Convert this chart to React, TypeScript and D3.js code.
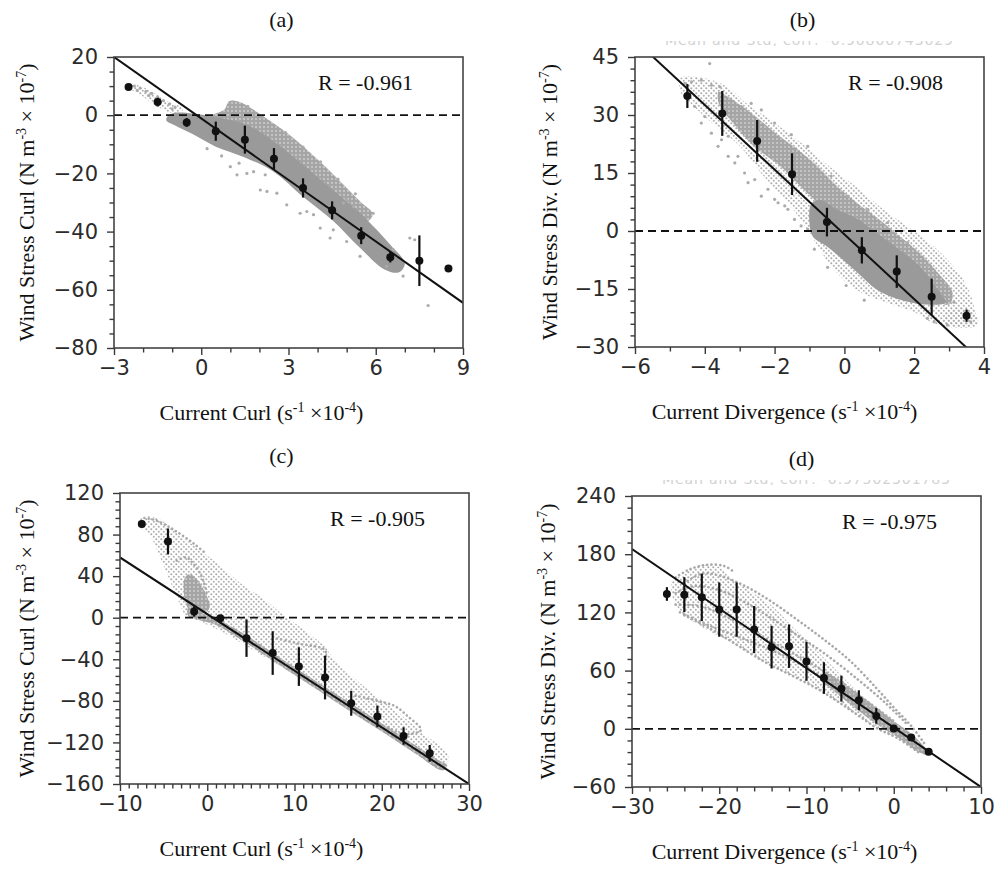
import React, { useEffect, useRef } from 'react';
import * as d3 from 'd3';

// ---- panel (a): wind stress curl vs current curl ----
const binsA = [-2.5, -1.5, -0.5, 0.5, 1.5, 2.5, 3.5, 4.5, 5.5, 6.5, 7.5, 8.5];
const meanA = [9.7, 4.5, -2.5, -5.5, -8.4, -15, -25, -32.7, -41.4, -48.8, -50, -52.7];
const stdA = [0.6, 1.5, 1.5, 3.3, 4.8, 3.7, 3.3, 3.1, 2.9, 1.8, 8.7, 0];
const fitA = [-7.04, -1.12]; // slope, intercept
const xTicksA = [-3, 0, 3, 6, 9];
const yTicksA = [-80, -60, -40, -20, 0, 20];
const denseA = [[-1.15, -0.3], [-0.9, 0.8], [-0.3, 0.6], [0.4, -0.5], [1.5, -3], [2.5, -9], [3.5, -17], [4.5, -25.5], [5.5, -34], [6.5, -44.5], [7.0, -51], [6.8, -54], [6.3, -53], [5.5, -46], [4.5, -36], [3.5, -28], [2.5, -19.5], [1.5, -14.5], [0.5, -10.8], [-0.3, -6.5], [-0.9, -3.5], [-1.2, -1.8]];
const lobeA = [[0.3, -0.5], [0.8, 2], [0.95, 4.8], [1.3, 4.6], [1.7, 2.5], [2.3, -1.5], [3.0, -6.5], [3.7, -12.5], [4.3, -18], [4.9, -24], [5.5, -30], [5.9, -34], [5.6, -37], [4.8, -31], [3.8, -23], [2.8, -15], [1.8, -8], [1.0, -4], [0.5, -2.5]];
const tailA = [[-2.45, 10.8], [-1.9, 9.2], [-1.2, 5], [-0.6, 2.2], [-0.9, 0.5], [-1.5, 3], [-2.1, 7], [-2.5, 9.6]];
const looseA = [[1.57, -20], [2.26, -26.2], [2.6, -26.8], [1.8, -19.4], [3.4, -33.7], [3.63, -33.1], [3.86, -34.2], [4.09, -38.8], [4.54, -39.4], [4.43, -42.2], [5.0, -43.4], [5.46, -48.5], [5.91, -33.7], [6.94, -55.3], [7.17, -42.2], [7.34, -42.8], [7.8, -65.4], [1.0, -17.7], [1.23, -20.5], [2.03, -25.7], [2.94, -30.8], [4.89, -30.2], [5.0, -29.1], [5.23, -31.4], [6.6, -46.2], [6.71, -48.5], [6.37, -51.9], [1.6, 3], [2.1, -0.5], [2.9, -6], [3.5, -11], [4.1, -16], [4.7, -22], [5.3, -27], [0.2, -11.5], [0.7, -14], [1.3, -16.5], [2.2, -20.5],
  [-2.3, 10], [-2.1, 9.3], [-1.9, 8.2], [-1.7, 7.5], [-1.5, 6.3], [-1.3, 5], [-1.1, 3.8], [-0.9, 2.8], [-2.2, 8.5], [-1.8, 6.8], [-1.4, 4.5], [-1.0, 2.2]];

// ---- panel (b): wind stress divergence vs current divergence ----
const binsB = [-4.5, -3.5, -2.5, -1.5, -0.5, 0.5, 1.5, 2.5, 3.5];
const meanB = [34.9, 30.4, 23.3, 14.7, 2.3, -5, -10.5, -17, -21.9];
const stdB = [3.1, 5.8, 5.4, 5.4, 3.7, 3.4, 4.2, 4.7, 1.6];
const fitB = [-8.37, -0.87];
const xTicksB = [-6, -4, -2, 0, 2, 4];
const yTicksB = [-30, -15, 0, 15, 30, 45];
const envB = [[-4.7, 39.5], [-4.0, 39.5], [-3.4, 37.5], [-2.8, 33], [-2.0, 28], [-1.2, 22.5], [-0.4, 16.5], [0.4, 11], [1.2, 5], [2.0, 0], [2.8, -6], [3.4, -12.5], [3.7, -19], [3.75, -24], [3.3, -25], [2.6, -24], [2.0, -21], [1.2, -18.5], [0.4, -15.5], [-0.3, -10], [-0.9, -2], [-1.5, 6], [-2.3, 14], [-3.0, 22], [-3.8, 28], [-4.4, 33], [-4.7, 36]];
const tipB = [[3.0, -20.5], [3.5, -20], [3.8, -22], [3.8, -24.5], [3.2, -24.8], [2.8, -23.5]];
const bandB = [[-3.6, 36], [-3.3, 34.5], [-2.6, 30], [-2.0, 25.5], [-1.4, 21.5], [-0.8, 17], [-0.2, 11.5], [0.4, 7], [1.0, 3], [1.6, -1.5], [2.2, -6], [2.7, -11], [3.1, -16], [3.0, -19], [2.4, -17], [1.6, -12], [0.8, -6], [0.2, -1], [-0.5, 5], [-1.2, 11], [-1.8, 16.5], [-2.6, 22], [-3.2, 28], [-3.6, 33]];
const denseB = [[-0.95, 7], [-0.7, 8], [-0.2, 5.5], [0.4, 3], [1.0, -1], [1.6, -5], [2.2, -9.5], [2.7, -15.5], [2.9, -18.5], [2.3, -19], [1.5, -17.5], [0.9, -15], [0.4, -11], [-0.1, -7], [-0.5, -4], [-0.9, -1.5], [-1.0, 2]];
const looseB = [[-3.86, 43.3], [-4.57, 38.2], [-4.38, 38.6], [-4.1, 39], [-3.81, 37.7], [-3.57, 37.3], [-4.29, 32.2], [-4.1, 27.9], [-3.81, 25.3], [-3.62, 21.9], [-3.33, 19.3], [-3.14, 17.6], [-2.86, 15], [-2.57, 13.3], [-2.19, 10.8], [-2, 8.2], [-1.71, 6.5], [-1.43, 3], [-1.24, 1.3], [-1.05, 0.5], [-0.86, -4.7], [-0.48, -9.4], [0.05, -14.1], [0.57, -17.9], [-3.33, 24.5], [-3.05, 19.3], [-2.76, 12.5], [-2.38, 9], [-1.9, 7.3], [-1.62, 5.6], [-4, 29.6], [-3.52, 23.6], [-3.14, 29.6], [-2.95, 32.2], [-2.67, 33], [-2.38, 31.3], [-2, 27.9], [-1.52, 24.9], [-1.05, 21.9], [-0.38, 14.2], [0.1, 9], [0.67, 5.6], [1.24, 2.2], [1.81, -3], [2.38, -8.9], [2.86, -14.1], [3.14, -18.4], [3.52, -20.9], [3.62, -23.5], [2.38, -22.6], [2.57, -23.5], [2.95, -24.3]];

// ---- panel (c): wind stress curl vs current curl ----
const binsC = [-7.5, -4.5, -1.5, 1.5, 4.5, 7.5, 10.5, 13.5, 16.5, 19.5, 22.5, 25.5];
const meanC = [90.1, 73.4, 6, -0.4, -19.7, -34, -47, -57.6, -82.3, -95, -113.8, -130.5];
const stdC = [3.5, 12.5, 5, 3, 18, 21, 18.6, 21, 12, 10.5, 8.4, 8];
const fitC = [-5.45, 3.5];
const xTicksC = [-10, 0, 10, 20, 30];
const yTicksC = [-160, -120, -80, -40, 0, 40, 80, 120];
const envC = [[-7.9, 94], [-6.8, 97.5], [-5.5, 95], [-3.5, 82], [-1, 66], [1.5, 50], [4, 32], [6.5, 18], [8.5, 4], [10.5, -8], [13.5, -28], [14, -34], [16, -52], [19, -73], [22, -92], [25, -113], [27.5, -130], [27.5, -140], [24, -125], [18, -95], [12, -65], [6, -35], [2, -15], [-1, -3], [-2.5, 3], [-3.5, 20], [-5, 50], [-6.5, 78], [-7.8, 88]];
const bandC = [[-2.2, 9], [-0.5, 4], [1.5, -3], [4, -14.5], [8, -36.5], [12, -58.5], [16, -80], [20, -101.5], [24, -123.5], [26.5, -137], [27.5, -142], [27, -147], [24, -131.5], [20, -109.5], [16, -88], [12, -66], [8, -44], [4, -22], [1, -7], [-1, -2], [-2.2, 2]];
const loopC = [[-2.6, 38], [-2.0, 42], [-1.3, 38], [-0.6, 30], [0, 20], [0.3, 12], [0, 6], [-1, 4], [-2, 7], [-2.5, 15], [-2.7, 28]];
const strandsC = [
  [[-3.5, 55], [-2.4, 58], [-1.6, 52], [-0.9, 44], [-0.4, 34], [0, 22]],
  [[-7.2, 96], [-6, 94], [-4.5, 88], [-3, 80], [-1.5, 71], [-0.2, 62]],
  [[8, -20], [10.5, -25], [13.5, -31], [13.6, -38]],
  [[17, -75], [19.5, -80], [21.5, -85], [23, -95], [24.5, -108], [22.5, -112], [20.5, -104]],
];

// ---- panel (d): wind stress divergence vs current divergence ----
const binsD = [-26, -24, -22, -20, -18, -16, -14, -12, -10, -8, -6, -4, -2, 0, 2, 4];
const meanD = [139, 138.3, 135.5, 122.9, 122.9, 102.3, 84.2, 85.2, 69.5, 52.3, 41.4, 29.4, 13.3, 0.3, -9, -23.7];
const stdD = [7, 18, 24.5, 28, 28, 24.3, 22, 22.4, 20, 16.3, 13.4, 10.3, 8, 1, 1, 1.5];
const fitD = [-6.13, 1.3];
const xTicksD = [-30, -20, -10, 0, 10];
const yTicksD = [-60, 0, 60, 120, 180, 240];
const envD = [[-25.4, 151], [-24.3, 158], [-22.4, 168], [-20.1, 167], [-18.6, 155], [-16.3, 141], [-14, 127], [-11.7, 106], [-9.4, 86], [-7.1, 65], [-4.9, 45], [-2.6, 24], [-0.3, 4], [2, -10], [3.9, -27], [2.8, -24], [0.5, -10], [-1.8, 0.3], [-4.1, 14], [-6.4, 27.7], [-8.7, 41.4], [-11.7, 55], [-14.8, 68.8], [-18.6, 89.3], [-21.6, 103], [-24.3, 120], [-25.4, 137]];
const denseD = [[-8, 58], [-5, 42], [-2, 22], [0, 8], [2, -5], [3.8, -22], [3.9, -27], [2.5, -22], [0.5, -9], [-2, 5], [-4.5, 22], [-7, 40], [-8.5, 53]];
const strandsD = [
  [[-25, 156], [-23.5, 164], [-21.5, 169], [-19.5, 168], [-18.5, 163]],
  [[-24, 150], [-22, 160], [-20, 158], [-17, 147], [-14, 131], [-11, 112], [-8, 92], [-5, 70], [-2, 42], [0, 22], [2, 3], [3.5, -15]],
  [[-25, 140], [-23, 147], [-20, 143], [-16, 125], [-12, 102], [-8, 78], [-4, 50], [-1, 27], [1.5, 5]],
  [[-25, 128], [-22, 126], [-18, 110], [-14, 90], [-10, 70], [-6, 48], [-3, 28], [0, 8]],
  [[-24.5, 120], [-21, 106], [-17, 92], [-13, 77], [-9, 58], [-5, 38], [-2, 18], [1, -2]],
  [[-24, 117], [-21, 103], [-18.6, 90], [-14.8, 69], [-11.7, 55], [-8.7, 41], [-6.4, 28], [-4.1, 14], [-1.8, 0], [0.5, -10], [2.8, -24]],
];

const SERIF = '"Liberation Serif", "Times New Roman", serif';
const SANS = '"DejaVu Sans", sans-serif';

const panels = [
  { key: 'a', title: '(a)', r: 'R = -0.961', left: 114, top: 57, width: 349, height: 291, xDomain: [-3, 9], yDomain: [-80, 20], xTicks: xTicksA, yTicks: yTicksA, xMinor: 1, yMinor: 5, bins: binsA, mean: meanA, std: stdA, fit: fitA, xLabel: 'Current Curl', yLabel: 'Wind Stress Curl', rx: 204, titleDx: -7, xLabelDx: -27, yLabelX: 34, faint: null,
    layers: { env: [tailA], lobe: [lobeA], dense: [denseA], strands: [], loose: looseA } },
  { key: 'b', title: '(b)', r: 'R = -0.908', left: 635, top: 57, width: 349, height: 290, xDomain: [-6, 4], yDomain: [-30, 45], xTicks: xTicksB, yTicks: yTicksB, xMinor: 1, yMinor: 3, bins: binsB, mean: meanB, std: stdB, fit: fitB, xLabel: 'Current Divergence', yLabel: 'Wind Stress Div.', rx: 213, titleDx: -7, xLabelDx: -25, yLabelX: 557, faint: 'Mean and Std, corr: -0.90800743029',
    layers: { env: [envB, tipB], lobe: [bandB], dense: [denseB], strands: [], loose: looseB } },
  { key: 'c', title: '(c)', r: 'R = -0.905', left: 120, top: 493, width: 349, height: 291, xDomain: [-10, 30], yDomain: [-160, 120], xTicks: xTicksC, yTicks: yTicksC, xMinor: 1, yMinor: 8, bins: binsC, mean: meanC, std: stdC, fit: fitC, xLabel: 'Current Curl', yLabel: 'Wind Stress Curl', rx: 210, titleDx: -13, xLabelDx: -33, yLabelX: 34, faint: null,
    layers: { env: [envC], lobe: [loopC, bandC], dense: [], strands: strandsC, loose: [] } },
  { key: 'd', title: '(d)', r: 'R = -0.975', left: 632, top: 496, width: 349, height: 291, xDomain: [-30, 10], yDomain: [-60, 240], xTicks: xTicksD, yTicks: yTicksD, xMinor: 2, yMinor: 12, bins: binsD, mean: meanD, std: stdD, fit: fitD, xLabel: 'Current Divergence', yLabel: 'Wind Stress Div.', rx: 210, titleDx: -5, xLabelDx: -22, yLabelX: 555, faint: 'Mean and Std, corr: -0.97502301783',
    layers: { env: [envD], lobe: [denseD], dense: [], strands: strandsD, loose: [] } },
];

function minorTicks(domain, step, major) {
  return d3.range(domain[0], domain[1] + step / 2, step).filter((v) => !major.some((m) => Math.abs(m - v) < 1e-9));
}

function Panel({ cfg }) {
  const gx = useRef(null);
  const gy = useRef(null);
  const x = d3.scaleLinear().domain(cfg.xDomain).range([0, cfg.width]);
  const y = d3.scaleLinear().domain(cfg.yDomain).range([cfg.height, 0]);

  useEffect(() => {
    const styleAxis = (sel) => {
      sel.select('.domain').remove();
      sel.selectAll('.tick line').attr('stroke', '#3a3a3a').attr('stroke-width', 1.4);
      sel.selectAll('.tick text').attr('fill', '#2b2b2b').style('font-family', SANS).style('font-size', '21px');
    };
    const ax = d3.select(gx.current);
    ax.selectAll('*').remove();
    ax.append('g').call(d3.axisBottom(x).tickValues(minorTicks(cfg.xDomain, cfg.xMinor, cfg.xTicks)).tickSize(4.5).tickFormat(() => '')).call(styleAxis);
    ax.append('g').call(d3.axisBottom(x).tickValues(cfg.xTicks).tickSize(7).tickPadding(5).tickFormat(d3.format('d'))).call(styleAxis);
    const ay = d3.select(gy.current);
    ay.selectAll('*').remove();
    ay.append('g').call(d3.axisLeft(y).tickValues(minorTicks(cfg.yDomain, cfg.yMinor, cfg.yTicks)).tickSize(4.5).tickFormat(() => '')).call(styleAxis);
    ay.append('g').call(d3.axisLeft(y).tickValues(cfg.yTicks).tickSize(7).tickPadding(9).tickFormat(d3.format('d'))).call(styleAxis);
  }, [cfg]);

  const closed = d3.line().x((d) => x(d[0])).y((d) => y(d[1])).curve(d3.curveCatmullRomClosed.alpha(0.5));
  const open = d3.line().x((d) => x(d[0])).y((d) => y(d[1])).curve(d3.curveCatmullRom.alpha(0.5));
  const [slope, icpt] = cfg.fit;
  const clipId = `clip-${cfg.key}`;
  const cx = cfg.width / 2;
  const L = cfg.layers;

  return (
    <g transform={`translate(${cfg.left},${cfg.top})`}>
      <defs>
        <clipPath id={clipId}>
          <rect x={0} y={0} width={cfg.width} height={cfg.height} />
        </clipPath>
        <clipPath id={`faint-${cfg.key}`}>
          <rect x={20} y={-16} width={320} height={5} />
        </clipPath>
      </defs>
      <text x={cx + cfg.titleDx} y={-30} textAnchor="middle" fontFamily={SERIF} fontSize={22} fill="#111">{cfg.title}</text>
      {cfg.faint && (
        <g clipPath={`url(#faint-${cfg.key})`}>
          <text x={30} y={-12} fontFamily={SANS} fontSize={14} textLength={288} fill="#d2d2d2">{cfg.faint}</text>
        </g>
      )}
      <g clipPath={`url(#${clipId})`}>
        {L.env.map((p, i) => <path key={`e${i}`} d={closed(p)} fill="url(#sparseDots)" />)}
        {L.lobe.map((p, i) => <path key={`l${i}`} d={closed(p)} fill="url(#speckle)" />)}
        {L.dense.map((p, i) => <path key={`d${i}`} d={closed(p)} fill="#9a9a9a" />)}
        {L.strands.map((p, i) => (
          <path key={`s${i}`} d={open(p)} fill="none" stroke="#a9a9a9" strokeWidth={2.6} strokeLinecap="round" strokeDasharray="0.1 4.2" />
        ))}
        {L.loose.map((p, i) => <circle key={`o${i}`} cx={x(p[0])} cy={y(p[1])} r={1.6} fill="#ababab" />)}
        <line x1={0} x2={cfg.width} y1={y(0)} y2={y(0)} stroke="#111" strokeWidth={1.8} strokeDasharray="8 5" />
        <line x1={x(cfg.xDomain[0])} y1={y(slope * cfg.xDomain[0] + icpt)} x2={x(cfg.xDomain[1])} y2={y(slope * cfg.xDomain[1] + icpt)} stroke="#111" strokeWidth={2} />
      </g>
      {cfg.bins.map((b, i) => (
        <g key={`b${i}`}>
          {cfg.std[i] > 0 && (
            <line x1={x(b)} x2={x(b)} y1={y(cfg.mean[i] - cfg.std[i])} y2={y(cfg.mean[i] + cfg.std[i])} stroke="#111" strokeWidth={2.2} />
          )}
          <circle cx={x(b)} cy={y(cfg.mean[i])} r={4} fill="#111" />
        </g>
      ))}
      <rect x={0} y={0} width={cfg.width} height={cfg.height} fill="none" stroke="#444" strokeWidth={1.6} />
      <g ref={gx} transform={`translate(0,${cfg.height})`} />
      <g ref={gy} />
      <text x={cfg.rx} y={33} fontFamily={SERIF} fontSize={22} fill="#111">{cfg.r}</text>
      <text x={cx + cfg.xLabelDx} y={cfg.height + 72} textAnchor="middle" fontFamily={SERIF} fontSize={22} fill="#111">
        {cfg.xLabel} (s<tspan dy={-8} fontSize={14}>-1</tspan><tspan dy={8}> ×10</tspan><tspan dy={-8} fontSize={14}>-4</tspan><tspan dy={8}>)</tspan>
      </text>
      <text transform={`translate(${cfg.yLabelX - cfg.left},${cfg.height / 2}) rotate(-90)`} textAnchor="middle" fontFamily={SERIF} fontSize={22} fill="#111">
        {cfg.yLabel} (N m<tspan dy={-8} fontSize={14}>-3</tspan><tspan dy={8}> × 10</tspan><tspan dy={-8} fontSize={14}>-7</tspan><tspan dy={8}>)</tspan>
      </text>
    </g>
  );
}

export default function App() {
  return (
    <svg width={1007} height={869} style={{ position: 'absolute', left: 0, top: 0, background: '#fff' }}>
      <defs>
        <pattern id="sparseDots" width={5} height={5} patternUnits="userSpaceOnUse">
          <circle cx={1.3} cy={1.3} r={1.05} fill="#ababab" />
          <circle cx={3.8} cy={3.8} r={1.05} fill="#b2b2b2" />
        </pattern>
        <pattern id="speckle" width={4} height={4} patternUnits="userSpaceOnUse">
          <rect width={4} height={4} fill="#a5a5a5" />
          <circle cx={2} cy={2} r={0.9} fill="#d2d2d2" />
        </pattern>
      </defs>
      <rect width={1007} height={869} fill="#fff" />
      {panels.map((p) => <Panel key={p.key} cfg={p} />)}
    </svg>
  );
}
